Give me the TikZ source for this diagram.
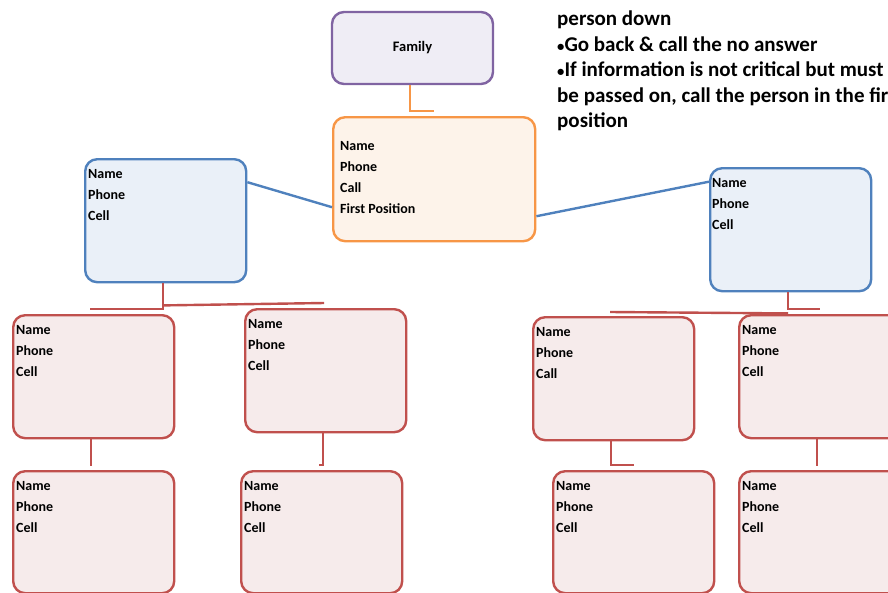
\documentclass[tikz,border=0pt]{standalone}
\usepackage{fontspec}
\setmainfont{Carlito}
\definecolor{purpleline}{HTML}{8064A2}
\definecolor{purplefill}{HTML}{EFEDF5}
\definecolor{orangeline}{HTML}{F79646}
\definecolor{orangefill}{HTML}{FDF3EA}
\definecolor{blueline}{HTML}{4F81BD}
\definecolor{bluefill}{HTML}{EAF0F8}
\definecolor{redline}{HTML}{C0504D}
\definecolor{redfill}{HTML}{F6EBEB}
\newcommand\smallbul{\scalebox{0.7}{\textbullet}}
\tikzset{
  box/.style={draw, line width=2.4pt, rounded corners=12pt, inner sep=0pt, anchor=north west},
  famstyle/.style={box, draw=purpleline, fill=purplefill, minimum width=161pt, minimum height=72pt, font=\bfseries\fontsize{14.5}{17}\selectfont, anchor=center},
  orbox/.style={box, draw=orangeline, fill=orangefill, minimum width=202pt, minimum height=124pt},
  bluebox/.style={box, draw=blueline, fill=bluefill, minimum width=161pt, minimum height=123pt},
  redbox/.style={box, draw=redline, fill=redfill, minimum width=161pt, minimum height=123pt},
  lbl/.style={font=\bfseries\fontsize{14}{21.2}\selectfont, align=left, anchor=north west, inner sep=0pt},
  toptext/.style={font=\bfseries\fontsize{21}{25.5}\selectfont, align=left, anchor=north west, inner sep=0pt},
  orconn/.style={draw=orangeline, line width=2.4pt},
  blconn/.style={draw=blueline, line width=2.4pt},
  rdconn/.style={draw=redline, line width=2.4pt},
}
\begin{document}
\begin{tikzpicture}[x=1pt,y=-1pt]
\useasboundingbox (0,0) rectangle (888,592);
\clip (0,0) rectangle (888,592);

% boxes
\node[famstyle] (fam) at (412.5,48) {Family};
\node[orbox] (or) at (332,116) {};
\node[bluebox] (lb) at (84,158) {};
\node[bluebox] (rb) at (709,167) {};
\node[redbox] (a) at (12,314) {};
\node[redbox] (b) at (244,308) {};
\node[redbox] (e) at (532,316) {};
\node[redbox] (f) at (738,314) {};
\node[redbox, minimum height=122pt] (c) at (12,470) {};
\node[redbox, minimum height=122pt] (d) at (240,470) {};
\node[redbox, minimum height=122pt] (g) at (552,470) {};
\node[redbox, minimum height=122pt] (h) at (738,470) {};

% labels
\node[lbl] (orT) at (340,141) {Name\\Phone\\Call\\First Position};
\node[lbl] (lbT) at (88,169) {Name\\Phone\\Cell};
\node[lbl] (rbT) at (712,178) {Name\\Phone\\Cell};
\node[lbl] (aT) at (16,325) {Name\\Phone\\Cell};
\node[lbl] (bT) at (248,319) {Name\\Phone\\Cell};
\node[lbl] (eT) at (536,327) {Name\\Phone\\Call};
\node[lbl] (fT) at (742,325) {Name\\Phone\\Cell};
\node[lbl] (cT) at (16,481) {Name\\Phone\\Cell};
\node[lbl] (dT) at (244,481) {Name\\Phone\\Cell};
\node[lbl] (gT) at (556,481) {Name\\Phone\\Cell};
\node[lbl] (hT) at (742,481) {Name\\Phone\\Cell};

% top-right text
\node[toptext] (note) at (557,11) {person down\\\smallbul Go back \& call the no answer\\\smallbul If information is not critical but must\\be passed on, call the person in the first\\position};

% connectors
\draw[orconn] ([xshift=-2.5pt]fam.south) |- ([yshift=5pt]or.north);
\draw[blconn] ([yshift=38.5pt]lb.east) -- ([yshift=-28pt]or.west);
\draw[blconn] ([yshift=-37pt]or.east) -- ([yshift=48pt]rb.west);

\draw[rdconn] ([xshift=-2.5pt]lb.south) |- ([xshift=-3.5pt,yshift=5pt]a.north);
\draw[rdconn] ([xshift=-2.5pt,yshift=-22pt]lb.south) -- ([xshift=-1.5pt,yshift=5pt]b.north);
\draw[rdconn] ([xshift=-2.5pt]a.south) -- ([xshift=-2.5pt,yshift=4pt]c.north);
\draw[rdconn] ([xshift=-2.5pt]b.south) |- ([xshift=-2.5pt,yshift=5pt]d.north);

\draw[rdconn] ([xshift=-2.5pt]rb.south) |- ([yshift=5pt]f.north);
\draw[rdconn] ([xshift=-2.5pt,yshift=-21pt]rb.south) -- ([xshift=-3.5pt,yshift=4pt]e.north);
\draw[rdconn] ([xshift=-2.5pt]e.south) |- ([yshift=5pt]g.north);
\draw[rdconn] ([xshift=-2.5pt]f.south) -- ([xshift=-2.5pt,yshift=4pt]h.north);
\end{tikzpicture}
\end{document}
